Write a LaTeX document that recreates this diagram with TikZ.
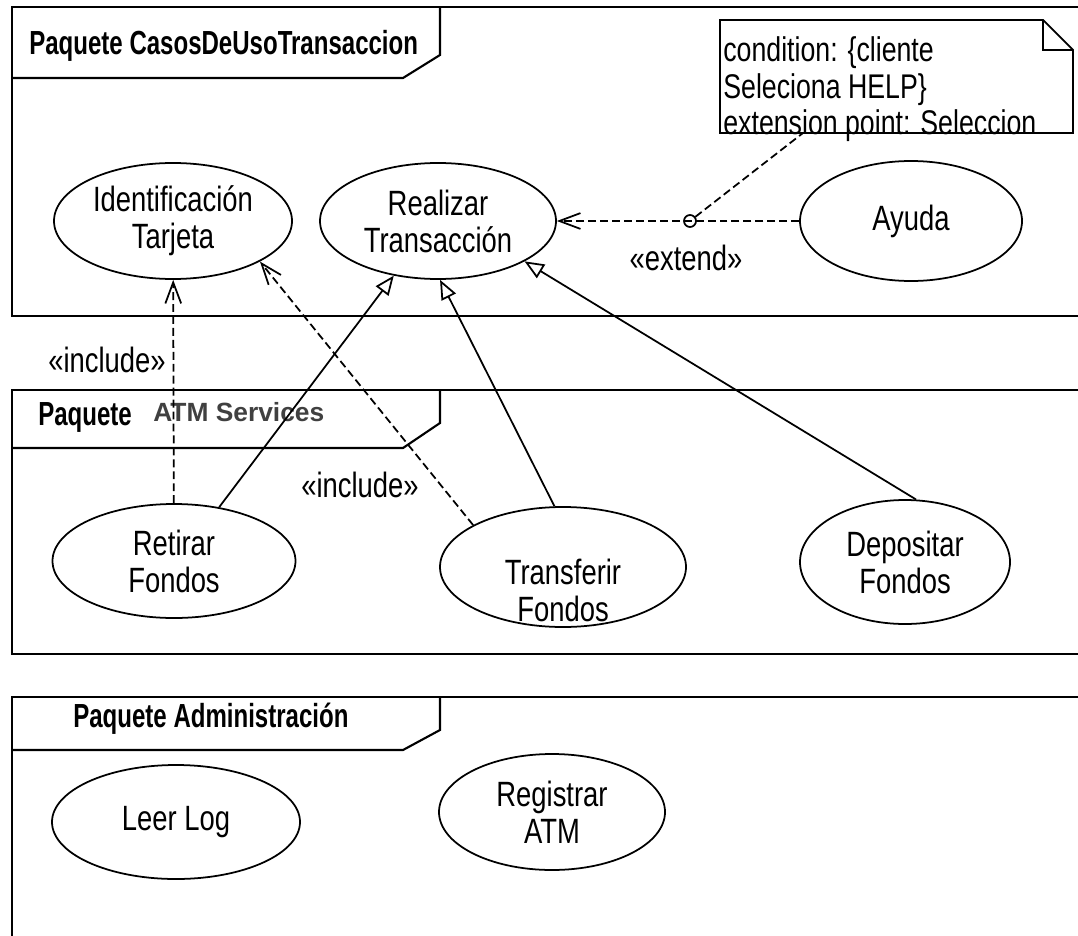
\documentclass[tikz,border=0pt]{standalone}
\usepackage{fontspec}
\setmainfont[FakeStretch=0.78]{Liberation Sans}
\newfontfamily\pkgfont[FakeStretch=0.72]{Liberation Sans}
\newfontfamily\atmfont{Liberation Sans}
\usetikzlibrary{shapes}
\usetikzlibrary{arrows.meta}

\begin{document}
\begin{tikzpicture}[x=0.02cm,y=-0.02cm,font=\fontsize{20}{21}\selectfont]
\tikzset{usecase/.style = {shape=ellipse,draw,line width=1pt,inner sep=0pt,align=center}}
\tikzset{frame/.style = {line width=1.2pt}}
\tikzset{head/.style = {anchor=base west,inner sep=0pt,font=\pkgfont\bfseries\fontsize{19}{21}\selectfont}}
\tikzset{incl/.style = {line width=1pt,dash pattern=on 4.5pt off 2.3pt,-{Straight Barb[length=12pt,width=9pt]}}}
\tikzset{gen/.style = {line width=1pt,-{Triangle[open,length=11pt,width=9pt]}}}
\tikzset{lbl/.style = {inner sep=0pt}}
\fill[white] (0,0) rectangle (1078,936);
\useasboundingbox (0,0) rectangle (1078,936);

\draw[frame] (1078,7) -- (12,7) -- (12,316) -- (1078,316);
\draw[frame] (440,7) -- (440,55) -- (403,78) -- (12,78);
\draw[frame] (1078,390) -- (12,390) -- (12,654) -- (1078,654);
\draw[frame] (440,390) -- (440,423) -- (403,448) -- (12,448);
\draw[frame] (1078,697) -- (12,697) -- (12,936);
\draw[frame] (440,697) -- (440,730) -- (403,750) -- (12,750);

\node[head] (p1) at (29,55) {Paquete CasosDeUsoTransaccion};
\node[head] (p2) at (38,425) {Paquete};
\node[anchor=base west,inner sep=0pt,text=black!75,font=\atmfont\bfseries\fontsize{15}{17}\selectfont] (p2b) at (153,421) {ATM Services};
\node[head] (p3) at (73,727) {Paquete Administración};

\node[usecase,minimum width=238*0.02cm,minimum height=116*0.02cm] (idt) at (173,221) {Identificación\\Tarjeta};
\node[usecase,minimum width=236*0.02cm,minimum height=116*0.02cm] (rtr) at (438,221) {Realizar\\Transacción};
\node[usecase,minimum width=222*0.02cm,minimum height=120*0.02cm] (ayu) at (911,221) {Ayuda};
\node[usecase,minimum width=243*0.02cm,minimum height=114*0.02cm] (ret) at (174,561) {Retirar\\Fondos};
\node[usecase,minimum width=246*0.02cm,minimum height=120*0.02cm] (tra) at (563,567) {};
\node[lbl,align=center] (tra-txt) at (563,590) {Transferir\\Fondos};
\node[usecase,minimum width=210*0.02cm,minimum height=124*0.02cm] (dep) at (905,562) {Depositar\\Fondos};
\node[usecase,minimum width=248*0.02cm,minimum height=114*0.02cm] (log) at (176,822) {Leer Log};
\node[usecase,minimum width=226*0.02cm,minimum height=116*0.02cm] (reg) at (552,812) {Registrar\\ATM};

\draw[line width=1pt] (720,20) -- (1043,20) -- (1073,50) -- (1073,133) -- (720,133) -- cycle;
\draw[line width=1pt] (1043,20) -- (1043,50) -- (1073,50);
\node[lbl,anchor=north west,align=left,font=\fontsize{19.5}{21}\selectfont] (note) at (723,36) {condition: \{cliente\\Seleciona HELP\}\\extension point: Seleccion};
\coordinate (notefoot) at (803,133);

\draw[incl] (ret) to (idt);
\draw[incl] (tra.155) to (idt.-25);
\draw[gen] (ret.50) to (rtr.231);
\draw[gen] (tra.98) to (rtr.-88);
\draw[gen] (dep.80) to (rtr.-25);
\draw[incl] (ayu) to (rtr);
\node[circle,draw,line width=1pt,minimum size=12*0.02cm,inner sep=0pt] (xpt) at (690,221) {};
\draw[line width=1pt,dash pattern=on 4.5pt off 2.3pt] (xpt) to (notefoot);

\node[lbl] (inc1) at (107,360) {«include»};
\node[lbl] (inc2) at (360,485) {«include»};
\node[lbl] (ext) at (686,258) {«extend»};
\end{tikzpicture}
\end{document}
